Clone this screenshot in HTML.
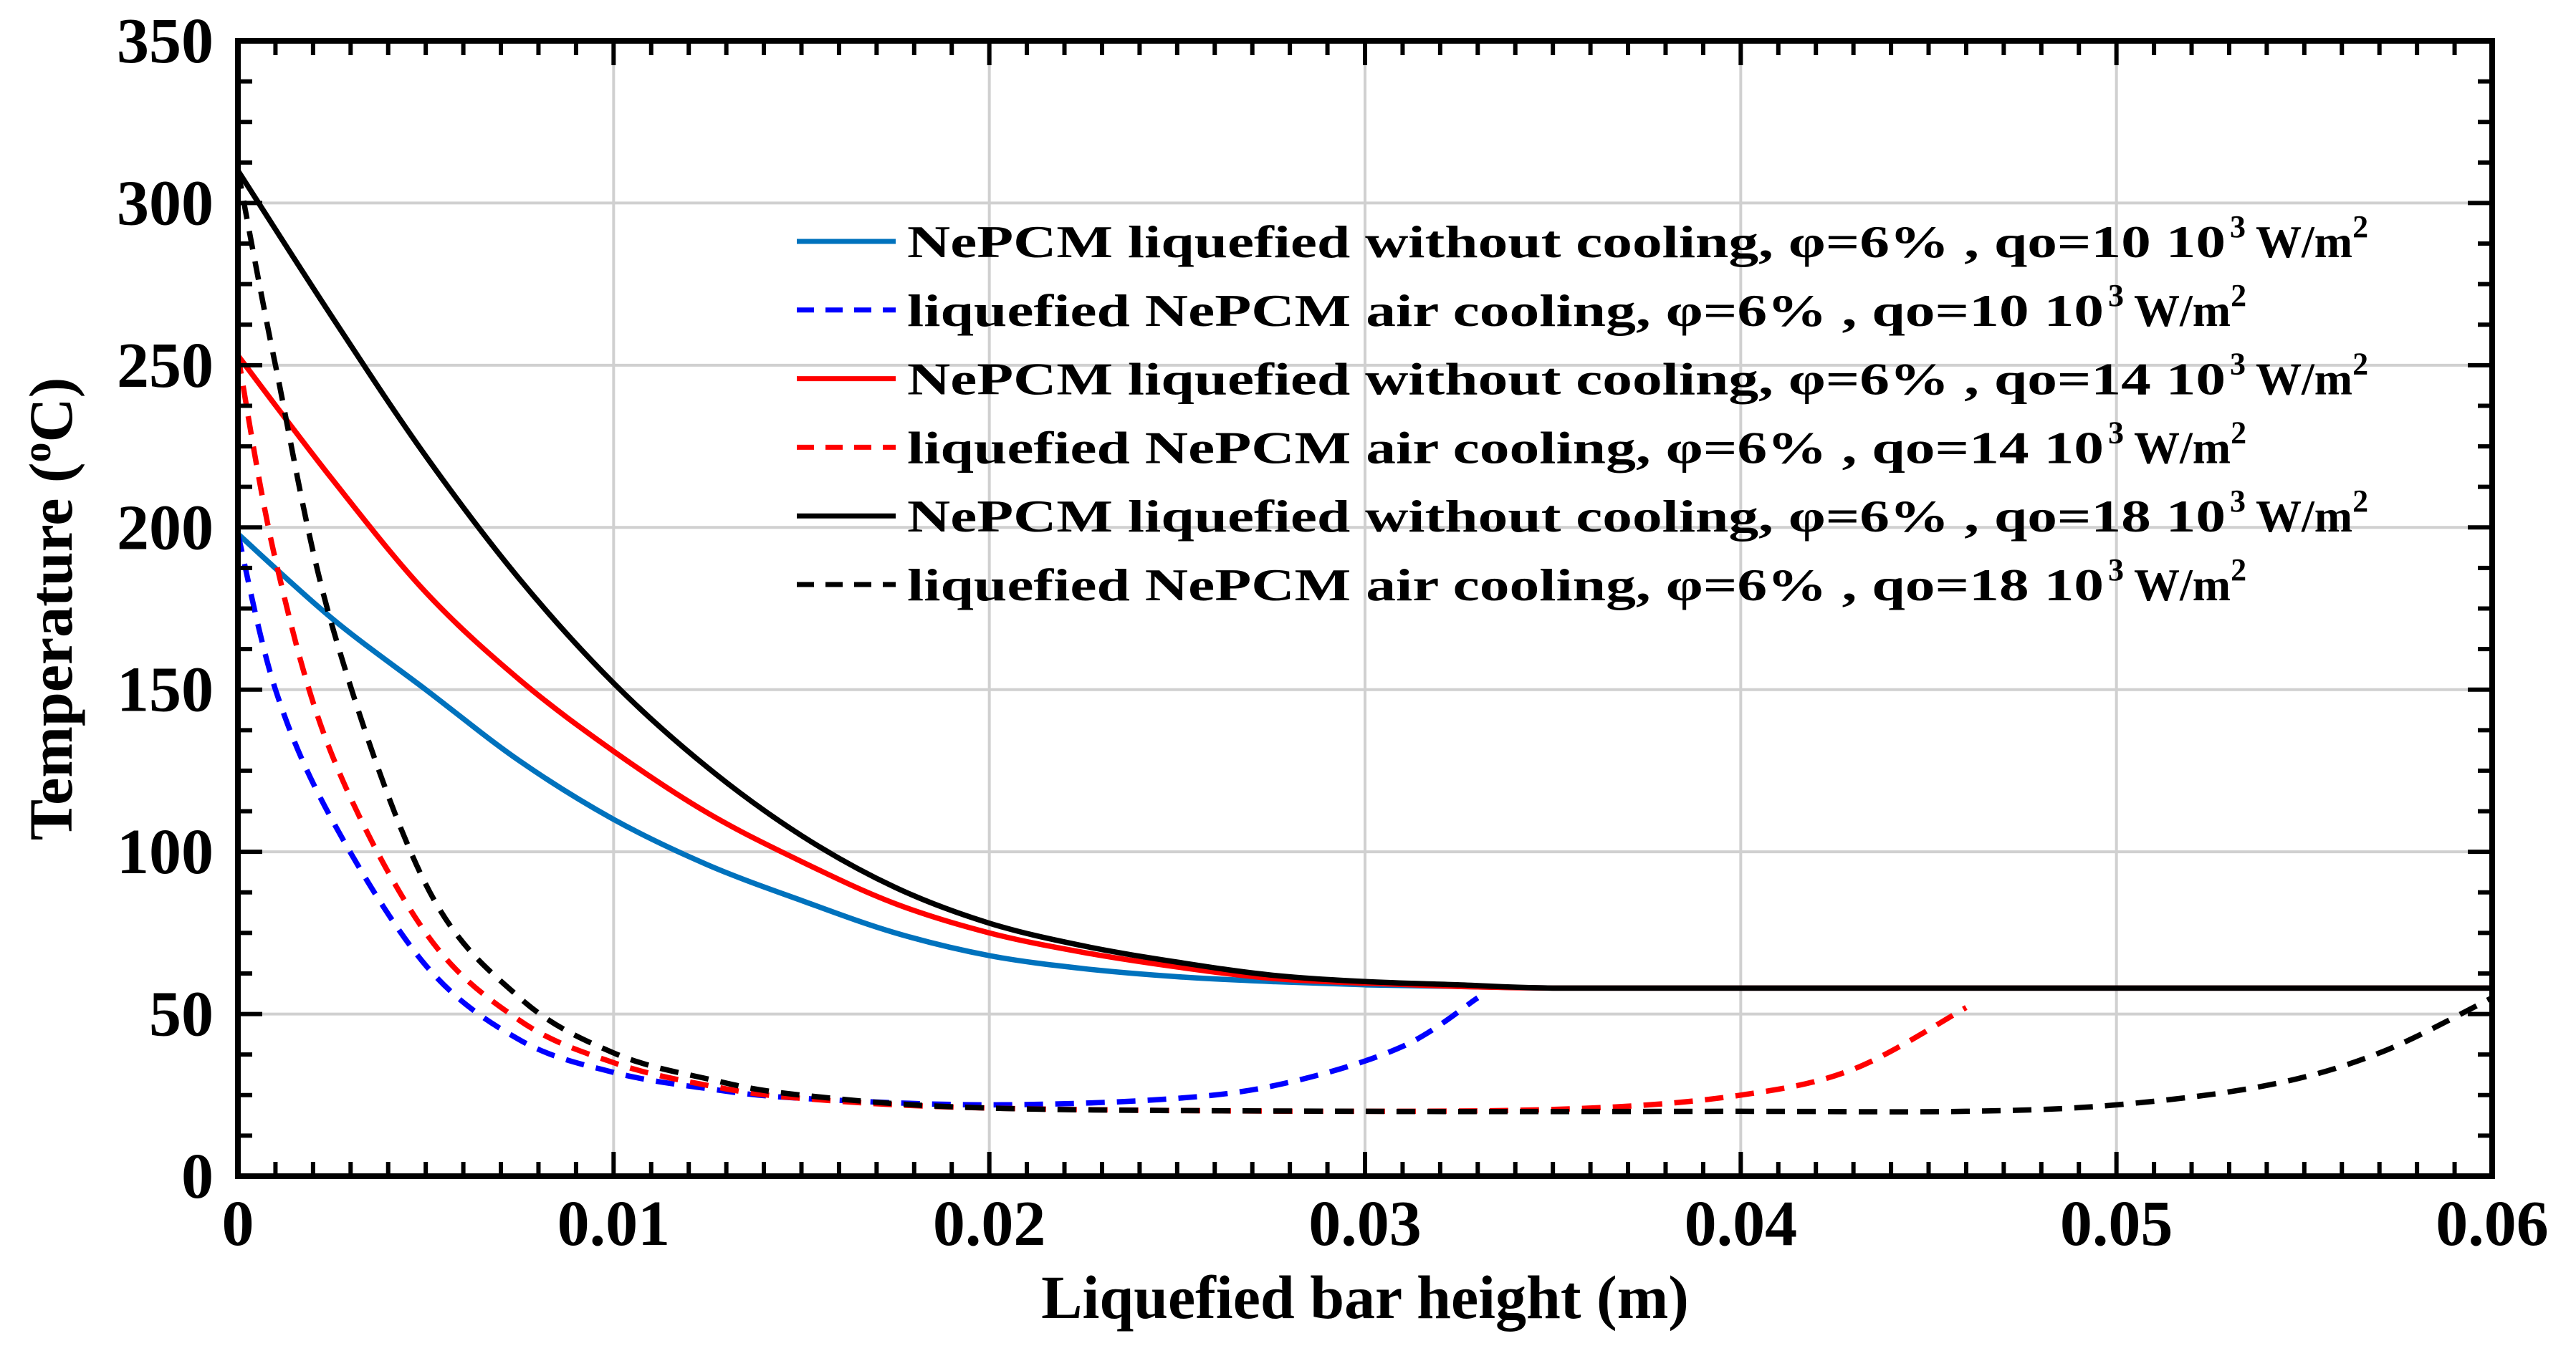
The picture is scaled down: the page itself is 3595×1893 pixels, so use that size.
<!DOCTYPE html>
<html><head><meta charset="utf-8"><style>
html,body{margin:0;padding:0;background:#fff;}
svg{display:block;}
text{font-family:"Liberation Serif",serif;font-weight:bold;fill:#000;}
</style></head><body>
<svg id="chart" width="3595" height="1893" viewBox="0 0 3595 1893" xmlns="http://www.w3.org/2000/svg">
<g id="grid"></g>
<g id="series"></g>
<g id="axes"></g>
<g id="legend"></g>
<text x="1905" y="1840" font-size="86" text-anchor="middle">Liquefied bar height (m)</text>
<text transform="translate(100,850) rotate(-90)" font-size="86" text-anchor="middle">Temperature (<tspan font-size="56" dy="-30">o</tspan><tspan dy="30">C)</tspan></text>
</svg>
<script>
const xTicks=[0,0.01,0.02,0.03,0.04,0.05,0.06];
const xTickLabels=["0","0.01","0.02","0.03","0.04","0.05","0.06"];
const yTicks=[0,50,100,150,200,250,300,350];
const yTickLabels=["0","50","100","150","200","250","300","350"];
const xSolid=[0,0.0025,0.005,0.0075,0.01,0.0125,0.015,0.0175,0.02,0.0225,0.025,0.0275,0.03,0.0325,0.035,0.04,0.05,0.06];
const blueSolid=[198,172,150,128,110,96,85,75,68,64,61.5,60,59,58.5,58,58,58,58];
const redSolid=[253,215,180,153,131,112,97,84,75,69,64.5,61,59.5,58.5,58,58,58,58];
const blackSolid=[310,265,222,184,152,126,105,89,78,71,66,62,60,59,58,58,58,58];
const xBlueDash=[0,0.001,0.0025,0.005,0.0075,0.01,0.0125,0.015,0.02,0.025,0.028,0.031,0.033];
const blueDash=[198,150,110,65,42,32,27,24,22,24,29,40,55];
const xRedDash=[0,0.001,0.0025,0.005,0.0075,0.01,0.0125,0.015,0.02,0.03,0.036,0.04,0.043,0.046];
const redDash=[253,190,130,75,48,35,28,24,21,20,21,25,33,52];
const xBlackDash=[0,0.001,0.0025,0.005,0.0075,0.01,0.0125,0.015,0.02,0.03,0.04,0.046,0.05,0.054,0.057,0.06];
const blackDash=[310,250,170,90,55,38,30,25,21,20,20,20,22,28,38,55];
const legendLabels=["NePCM liquefied without cooling, φ=6% , qo=10 10","liquefied NePCM air cooling, φ=6% , qo=10 10","NePCM liquefied without cooling, φ=6% , qo=14 10","liquefied NePCM air cooling, φ=6% , qo=14 10","NePCM liquefied without cooling, φ=6% , qo=18 10","liquefied NePCM air cooling, φ=6% , qo=18 10"];

const L=332,R=3478,T=57,B=1642;
const X=v=>L+(v/0.06)*(R-L);
const Y=v=>B-(v/350)*(B-T);
const NS="http://www.w3.org/2000/svg";
function mk(tag,attrs,parent){const e=document.createElementNS(NS,tag);for(const k in attrs)e.setAttribute(k,attrs[k]);parent.appendChild(e);return e;}
const grid=document.getElementById('grid'),axes=document.getElementById('axes'),series=document.getElementById('series'),legend=document.getElementById('legend');
xTicks.forEach((t,i)=>{
  if(i>0&&i<xTicks.length-1){const g=mk('line',{x1:X(t),x2:X(t),y1:T,y2:B,stroke:'#d0d0d0','stroke-width':4},grid);
  
  }
  const tx=mk('text',{x:X(t),y:1738,'font-size':90,'text-anchor':'middle'},axes);tx.textContent=xTickLabels[i];
  
  
});
yTicks.forEach((t,i)=>{
  if(i>0&&i<yTicks.length-1){const g=mk('line',{x1:L,x2:R,y1:Y(t),y2:Y(t),stroke:'#d0d0d0','stroke-width':4},grid);
  
  }
  const tx=mk('text',{x:298,y:Y(t)+30,'font-size':90,'text-anchor':'end'},axes);tx.textContent=yTickLabels[i];
  
  
});
let d='';
for(let i=0;i<=60;i++){const x=L+i*(R-L)/60;const len=i%10===0?34:20;d+=`M${x},${B}v${-len}M${x},${T}v${len}`;}
for(let i=0;i<=28;i++){const y=B-i*(B-T)/28;const len=i%4===0?34:20;d+=`M${L},${y}h${len}M${R},${y}h${-len}`;}
const tk=mk('path',{d:d,stroke:'#000','stroke-width':6,fill:'none'},axes);


const fr=mk('rect',{x:L,y:T,width:R-L,height:B-T,fill:'none',stroke:'#000','stroke-width':8},axes);


function spline(xs,ys){const p=xs.map((x,i)=>[X(x),Y(ys[i])]);let s=`M${p[0][0]},${p[0][1]}`;
 for(let i=0;i<p.length-1;i++){const p0=p[Math.max(0,i-1)],p1=p[i],p2=p[i+1],p3=p[Math.min(p.length-1,i+2)];
 const c1=[p1[0]+(p2[0]-p0[0])/6,p1[1]+(p2[1]-p0[1])/6],c2=[p2[0]-(p3[0]-p1[0])/6,p2[1]-(p3[1]-p1[1])/6];
 s+=`C${c1[0]},${c1[1]} ${c2[0]},${c2[1]} ${p2[0]},${p2[1]}`;}return s;}
const defs=[
 [xSolid,blueSolid,'#0072BD',null,'blue-solid-line'],
 [xBlueDash,blueDash,'#0000FF','26 17','blue-dashed-line'],
 [xSolid,redSolid,'#FF0000',null,'red-solid-line'],
 [xRedDash,redDash,'#FF0000','26 17','red-dashed-line'],
 [xSolid,blackSolid,'#000000',null,'black-solid-line'],
 [xBlackDash,blackDash,'#000000','26 17','black-dashed-line']];
defs.forEach((s,i)=>{
 const a={d:spline(s[0],s[1]),stroke:s[2],'stroke-width':7.5,fill:'none'};if(s[3])a['stroke-dasharray']=s[3];
 const p=mk('path',a,series);
 
 
 const ly=337+i*95.8;
 const la={x1:1112,x2:1250,y1:ly,y2:ly,stroke:s[2],'stroke-width':7};if(s[3])la['stroke-dasharray']='24 16';
 const ll=mk('line',la,legend);
 
 
 const t=mk('text',{x:1266,y:ly+22,'font-size':64},legend);
 
 
 const w=(i%2===0)?1840:1670;
 const t1=mk('tspan',{textLength:w,lengthAdjust:'spacingAndGlyphs'},t);t1.textContent=legendLabels[i];
 const t2=mk('tspan',{'font-size':44,dy:-28,dx:6},t);t2.textContent='3';
 const t3=mk('tspan',{dy:28,dx:14},t);t3.textContent='W/m';
 const t4=mk('tspan',{'font-size':44,dy:-28},t);t4.textContent='2';
});
</script>
</body></html>
